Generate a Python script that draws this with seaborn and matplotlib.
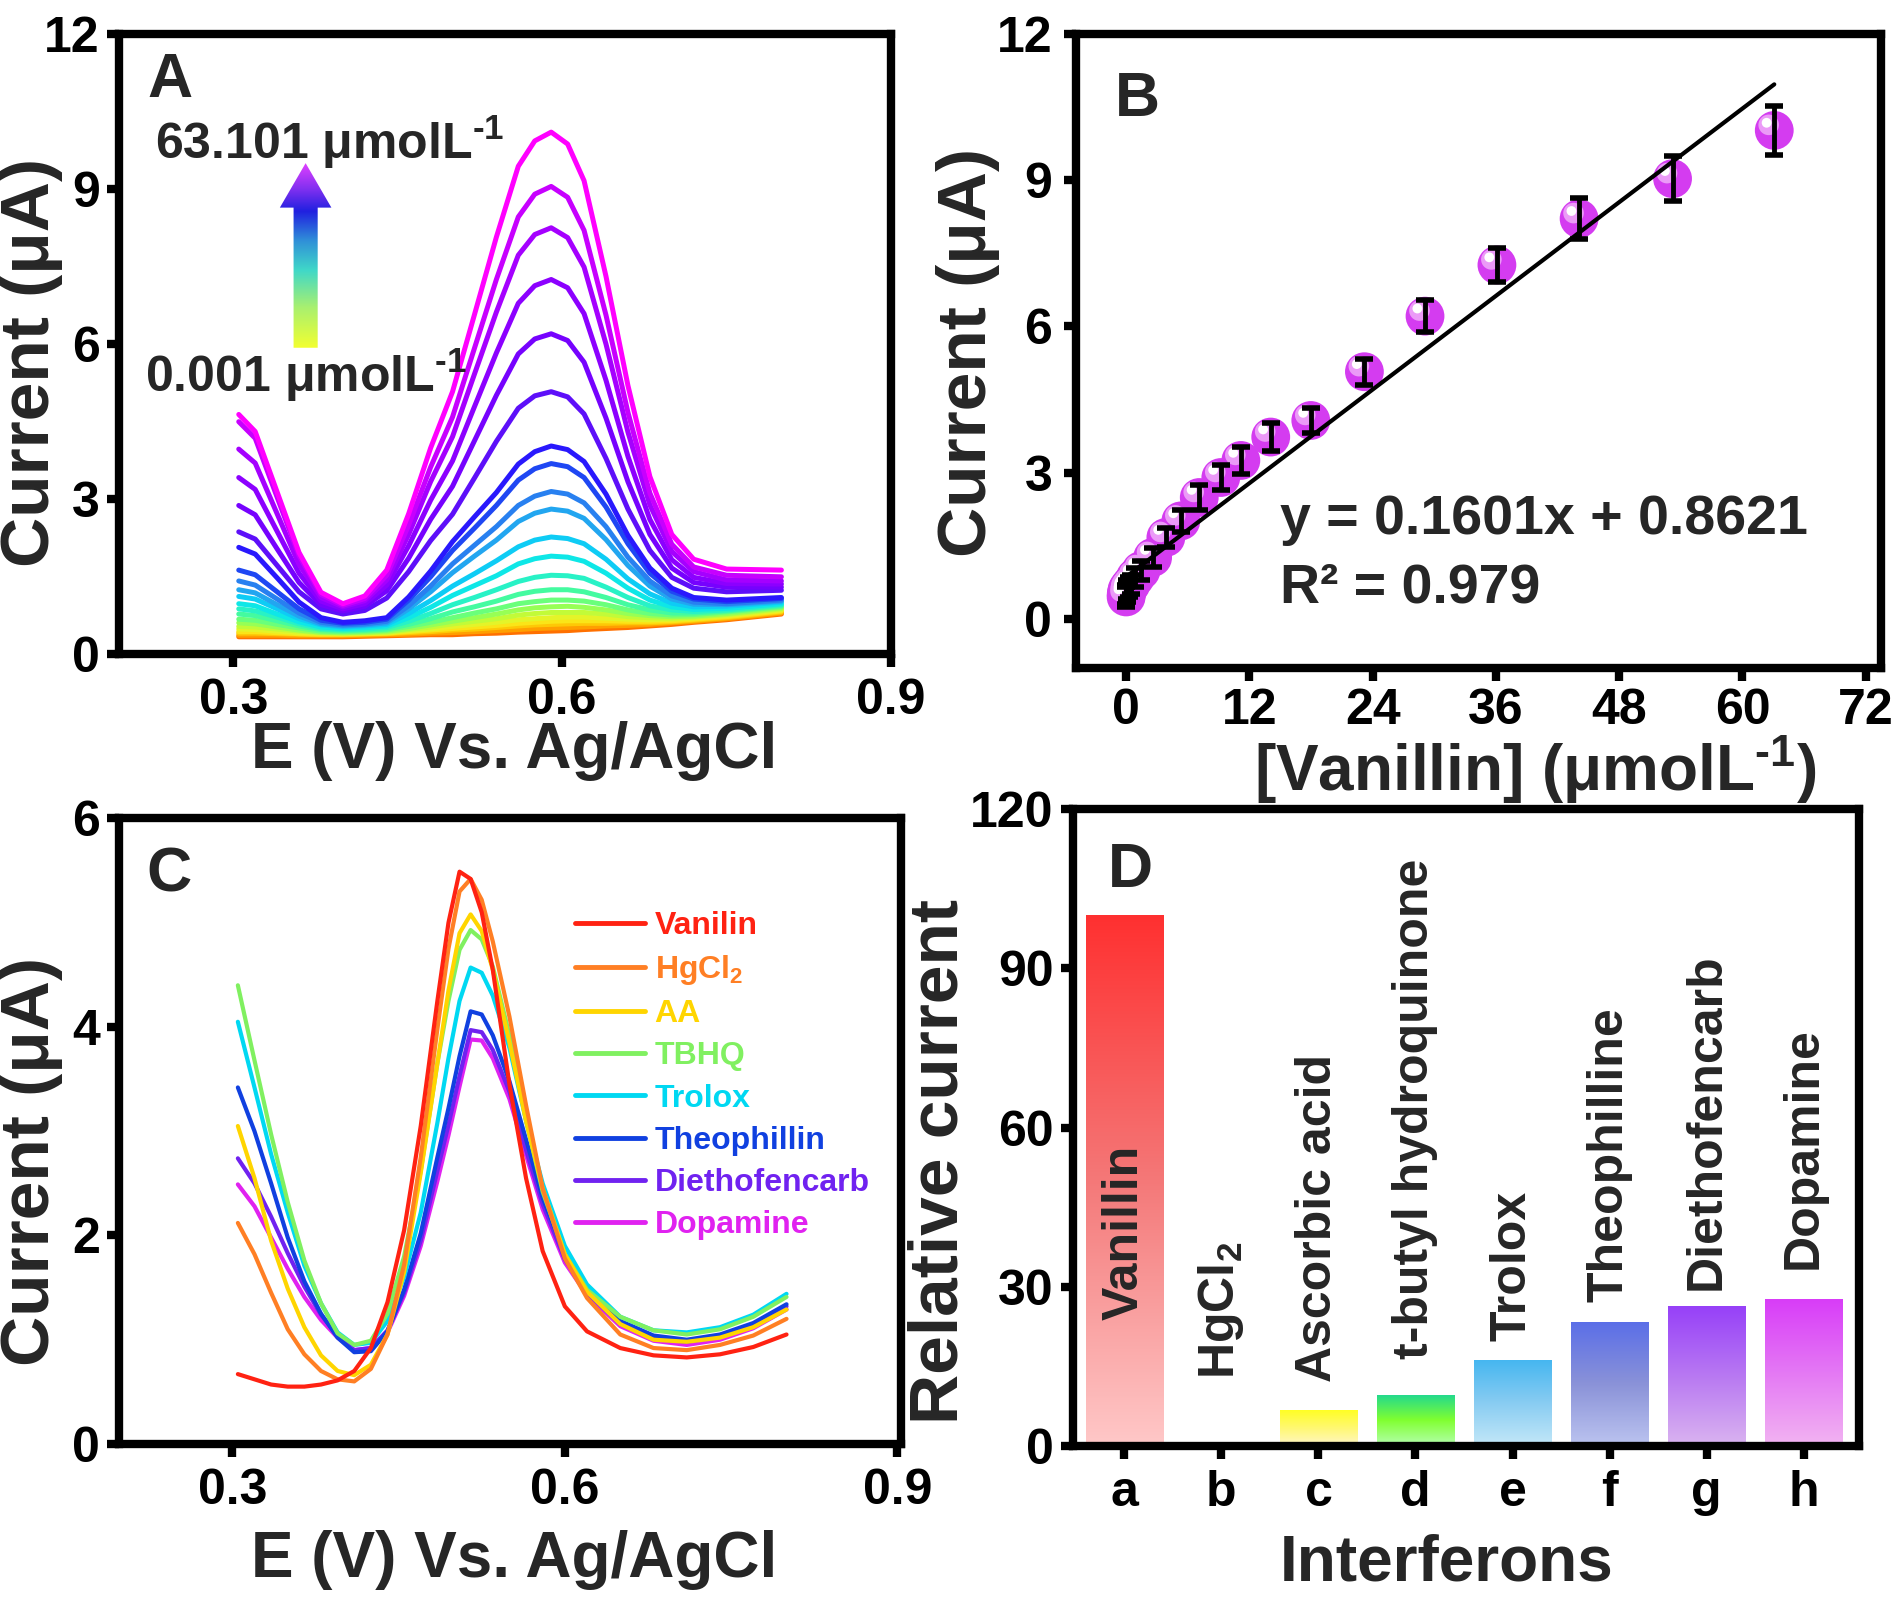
import numpy as np
import pandas as pd
import matplotlib
matplotlib.use("Agg")
import matplotlib.pyplot as plt
import matplotlib.transforms as mtransforms
from matplotlib.colors import LinearSegmentedColormap
from matplotlib.lines import Line2D
from matplotlib.patches import FancyArrow
import seaborn as sns

# ---------------- data ----------------
# A: DPV curves, potential grid (V) and current (uA), lowest -> highest vanillin
E_A = [0.305, 0.32, 0.34, 0.36, 0.38, 0.40, 0.42, 0.44, 0.46, 0.48, 0.50, 0.52,
       0.54, 0.56, 0.575, 0.59, 0.605, 0.62, 0.64, 0.66, 0.68, 0.70, 0.72, 0.75, 0.80]
dpv_A = [
    [0.34, 0.34, 0.34, 0.34, 0.34, 0.34, 0.35, 0.36, 0.37, 0.38, 0.38, 0.40, 0.41, 0.43, 0.44, 0.45, 0.46, 0.48, 0.50, 0.52, 0.55, 0.58, 0.62, 0.67, 0.78],
    [0.37, 0.37, 0.37, 0.36, 0.36, 0.36, 0.37, 0.38, 0.39, 0.41, 0.42, 0.44, 0.46, 0.48, 0.50, 0.51, 0.52, 0.53, 0.55, 0.56, 0.58, 0.61, 0.64, 0.69, 0.80],
    [0.41, 0.41, 0.40, 0.39, 0.38, 0.38, 0.39, 0.40, 0.42, 0.44, 0.47, 0.49, 0.52, 0.55, 0.57, 0.58, 0.59, 0.60, 0.60, 0.61, 0.61, 0.63, 0.66, 0.71, 0.82],
    [0.44, 0.44, 0.42, 0.40, 0.39, 0.39, 0.40, 0.41, 0.44, 0.47, 0.50, 0.53, 0.56, 0.60, 0.62, 0.64, 0.65, 0.65, 0.65, 0.64, 0.64, 0.65, 0.68, 0.73, 0.84],
    [0.49, 0.48, 0.45, 0.42, 0.41, 0.40, 0.41, 0.42, 0.46, 0.49, 0.54, 0.58, 0.62, 0.67, 0.69, 0.71, 0.72, 0.72, 0.70, 0.68, 0.67, 0.68, 0.70, 0.75, 0.86],
    [0.54, 0.53, 0.49, 0.45, 0.42, 0.41, 0.42, 0.43, 0.48, 0.53, 0.59, 0.64, 0.69, 0.76, 0.79, 0.81, 0.81, 0.81, 0.78, 0.73, 0.71, 0.70, 0.72, 0.77, 0.88],
    [0.61, 0.59, 0.53, 0.47, 0.43, 0.42, 0.43, 0.45, 0.50, 0.57, 0.64, 0.71, 0.78, 0.86, 0.90, 0.92, 0.93, 0.91, 0.86, 0.79, 0.75, 0.73, 0.74, 0.79, 0.90],
    [0.68, 0.66, 0.58, 0.51, 0.45, 0.44, 0.45, 0.47, 0.54, 0.62, 0.71, 0.80, 0.88, 0.98, 1.02, 1.05, 1.05, 1.03, 0.96, 0.86, 0.79, 0.76, 0.77, 0.82, 0.92],
    [0.78, 0.75, 0.65, 0.55, 0.48, 0.46, 0.47, 0.49, 0.58, 0.69, 0.82, 0.92, 1.03, 1.16, 1.22, 1.25, 1.25, 1.21, 1.10, 0.96, 0.86, 0.80, 0.80, 0.84, 0.94],
    [0.88, 0.84, 0.72, 0.59, 0.50, 0.48, 0.49, 0.52, 0.64, 0.79, 0.96, 1.10, 1.25, 1.41, 1.49, 1.53, 1.52, 1.47, 1.30, 1.10, 0.94, 0.86, 0.83, 0.86, 0.96],
    [0.98, 0.94, 0.78, 0.63, 0.53, 0.50, 0.52, 0.55, 0.71, 0.91, 1.14, 1.33, 1.52, 1.75, 1.85, 1.90, 1.88, 1.80, 1.57, 1.28, 1.05, 0.92, 0.87, 0.89, 0.98],
    [1.12, 1.07, 0.88, 0.69, 0.57, 0.53, 0.55, 0.58, 0.79, 1.04, 1.32, 1.56, 1.81, 2.08, 2.21, 2.27, 2.24, 2.14, 1.84, 1.46, 1.17, 0.99, 0.92, 0.93, 1.01],
    [1.25, 1.19, 0.96, 0.74, 0.59, 0.55, 0.57, 0.61, 0.88, 1.21, 1.58, 1.90, 2.21, 2.57, 2.73, 2.81, 2.77, 2.63, 2.22, 1.72, 1.32, 1.07, 0.97, 0.96, 1.03],
    [1.42, 1.34, 1.07, 0.80, 0.62, 0.57, 0.59, 0.64, 0.94, 1.32, 1.75, 2.11, 2.47, 2.88, 3.06, 3.15, 3.10, 2.93, 2.47, 1.88, 1.42, 1.13, 1.01, 0.98, 1.05],
    [1.63, 1.54, 1.21, 0.88, 0.66, 0.60, 0.62, 0.68, 1.05, 1.50, 2.01, 2.44, 2.88, 3.37, 3.59, 3.69, 3.63, 3.42, 2.85, 2.14, 1.57, 1.22, 1.07, 1.02, 1.08],
    [2.07, 1.94, 1.48, 1.01, 0.71, 0.62, 0.65, 0.71, 1.11, 1.61, 2.18, 2.66, 3.13, 3.68, 3.92, 4.03, 3.96, 3.73, 3.10, 2.30, 1.67, 1.28, 1.10, 1.05, 1.10],
    [2.37, 2.23, 1.72, 1.21, 0.88, 0.78, 0.85, 1.09, 1.60, 2.20, 2.71, 3.41, 4.12, 4.76, 5.00, 5.08, 4.98, 4.65, 3.79, 2.81, 2.01, 1.49, 1.28, 1.21, 1.24],
    [2.88, 2.70, 2.04, 1.39, 0.96, 0.84, 0.93, 1.23, 1.86, 2.61, 3.25, 4.13, 5.01, 5.81, 6.10, 6.20, 6.07, 5.65, 4.57, 3.34, 2.32, 1.67, 1.39, 1.30, 1.30],
    [3.42, 3.19, 2.38, 1.57, 1.03, 0.88, 0.98, 1.34, 2.10, 2.98, 3.74, 4.79, 5.83, 6.79, 7.13, 7.25, 7.09, 6.59, 5.30, 3.83, 2.61, 1.83, 1.49, 1.37, 1.36],
    [3.97, 3.70, 2.72, 1.74, 1.10, 0.92, 1.04, 1.44, 2.32, 3.34, 4.21, 5.42, 6.62, 7.72, 8.12, 8.25, 8.06, 7.49, 6.00, 4.30, 2.89, 1.99, 1.60, 1.44, 1.42],
    [4.50, 4.18, 3.04, 1.91, 1.16, 0.95, 1.08, 1.53, 2.50, 3.62, 4.59, 5.92, 7.25, 8.46, 8.90, 9.05, 8.84, 8.20, 6.56, 4.68, 3.12, 2.13, 1.69, 1.53, 1.50],
    [4.64, 4.31, 3.14, 1.97, 1.20, 0.98, 1.13, 1.63, 2.72, 3.99, 5.08, 6.57, 8.07, 9.44, 9.93, 10.10, 9.87, 9.16, 7.31, 5.20, 3.44, 2.32, 1.84, 1.65, 1.63],
]

# B: calibration
conc_B = [0.001, 0.01, 0.05, 0.1, 0.25, 0.47, 0.9, 1.44, 2.58, 3.87, 5.33, 7.12,
          9.22, 11.17, 14.08, 17.98, 23.2, 29.1, 36.1, 44.1, 53.2, 63.101]
curr_B = [0.45, 0.50, 0.55, 0.60, 0.65, 0.71, 0.85, 0.99, 1.26, 1.67, 2.01, 2.49,
          2.90, 3.25, 3.73, 4.07, 5.07, 6.21, 7.26, 8.21, 9.03, 10.02]
err_B = [0.2, 0.2, 0.2, 0.2, 0.2, 0.2, 0.2, 0.2, 0.2, 0.2, 0.22, 0.25,
         0.25, 0.27, 0.28, 0.25, 0.27, 0.33, 0.35, 0.42, 0.46, 0.5]
fit_slope = 0.1601
fit_intercept = 0.8621

# C: interference DPV
E_C = [0.305, 0.32, 0.335, 0.35, 0.365, 0.38, 0.395, 0.41, 0.425, 0.44, 0.455, 0.47,
       0.485, 0.495, 0.505, 0.515, 0.525, 0.535, 0.55, 0.565, 0.58, 0.60, 0.62, 0.65,
       0.68, 0.71, 0.74, 0.77, 0.80]
species_C = ['Vanilin', 'HgCl$_2$', 'AA', 'TBHQ', 'Trolox', 'Theophillin',
             'Diethofencarb', 'Dopamine']
curr_C = [
    [0.67, 0.62, 0.57, 0.55, 0.55, 0.57, 0.61, 0.70, 0.92, 1.36, 2.05, 3.05, 4.25, 5.00, 5.49, 5.42, 5.10, 4.55, 3.45, 2.55, 1.85, 1.32, 1.08, 0.92, 0.85, 0.83, 0.86, 0.93, 1.05],
    [2.12, 1.82, 1.45, 1.10, 0.86, 0.70, 0.62, 0.60, 0.72, 1.05, 1.72, 2.75, 3.98, 4.75, 5.30, 5.42, 5.22, 4.82, 4.10, 3.25, 2.45, 1.78, 1.40, 1.05, 0.92, 0.90, 0.95, 1.04, 1.20],
    [3.05, 2.55, 1.95, 1.49, 1.12, 0.85, 0.70, 0.66, 0.76, 1.05, 1.65, 2.60, 3.65, 4.35, 4.90, 5.08, 4.92, 4.55, 3.85, 3.10, 2.45, 1.82, 1.46, 1.15, 1.00, 0.98, 1.02, 1.12, 1.29],
    [4.40, 3.68, 2.97, 2.32, 1.76, 1.35, 1.06, 0.95, 0.99, 1.25, 1.80, 2.62, 3.65, 4.25, 4.74, 4.93, 4.84, 4.58, 3.92, 3.10, 2.42, 1.82, 1.48, 1.22, 1.09, 1.05, 1.10, 1.22, 1.41],
    [4.05, 3.42, 2.78, 2.22, 1.71, 1.35, 1.07, 0.95, 0.97, 1.18, 1.60, 2.22, 3.08, 3.70, 4.25, 4.57, 4.52, 4.30, 3.80, 3.10, 2.50, 1.90, 1.53, 1.22, 1.09, 1.07, 1.12, 1.24, 1.44],
    [3.42, 3.00, 2.50, 1.98, 1.56, 1.25, 1.02, 0.88, 0.89, 1.08, 1.48, 2.02, 2.75, 3.22, 3.72, 4.15, 4.12, 3.92, 3.48, 2.92, 2.36, 1.82, 1.48, 1.18, 1.04, 1.00, 1.05, 1.16, 1.34],
    [2.74, 2.50, 2.18, 1.83, 1.51, 1.24, 1.04, 0.90, 0.92, 1.09, 1.45, 1.95, 2.62, 3.06, 3.53, 3.97, 3.95, 3.78, 3.38, 2.82, 2.30, 1.77, 1.45, 1.15, 1.01, 0.98, 1.03, 1.14, 1.32],
    [2.49, 2.28, 1.98, 1.68, 1.41, 1.19, 1.02, 0.90, 0.92, 1.07, 1.42, 1.90, 2.52, 2.96, 3.43, 3.88, 3.87, 3.70, 3.31, 2.77, 2.25, 1.74, 1.43, 1.13, 0.99, 0.95, 1.00, 1.11, 1.29],
]
colors_C = ['#ff2212', '#ff7f24', '#ffd500', '#80f060', '#00d8f2', '#1040e0', '#7022f0', '#e022f0']

# D: relative current of interferents
letters_D = ['a', 'b', 'c', 'd', 'e', 'f', 'g', 'h']
names_D = ['Vanillin', 'HgCl$_2$', 'Ascorbic acid', 't-butyl hydroquinone', 'Trolox',
           'Theophilline', 'Diethofencarb', 'Dopamine']
rel_D = [100, 0, 6.8, 9.7, 16.3, 23.5, 26.4, 27.8]
name_y_D = [23.7, 12.6, 12.1, 16.5, 19.8, 27.1, 29.5, 33.4]
bar_grad_D = [['#ffc8c8', '#f47878', '#ff3030'], None, ['#fff6c8', '#fff870', '#ffff20'],
              ['#b4ffb0', '#80ff30', '#20d890'], ['#c4e8f8', '#88ccf2', '#44b6f0'],
              ['#bcc4f0', '#8a92d8', '#5a6ee8'], ['#dab4f0', '#b878f2', '#9640f8'],
              ['#f2b4f2', '#e478f4', '#d83cf8']]

# ---------------- style ----------------
sns.set_theme(style="ticks")
plt.rcParams['font.family'] = ['Liberation Sans', 'DejaVu Sans']
plt.rcParams['font.weight'] = 'bold'
plt.rcParams['axes.labelweight'] = 'bold'
plt.rcParams['mathtext.fontset'] = 'custom'
plt.rcParams['mathtext.rm'] = 'Liberation Sans:bold'
plt.rcParams['mathtext.it'] = 'Liberation Sans:bold'
plt.rcParams['mathtext.bf'] = 'Liberation Sans:bold'
plt.rcParams['mathtext.default'] = 'rm'

TICK = 36
LAB_X = 46
LAB_Y = 50
UNIT = 'μmolL$^{\u20101}$'


def frame(ax, xpad=8, ypad=5):
    for sp in ax.spines.values():
        sp.set_linewidth(6)
        sp.set_color('black')
    ax.tick_params(axis='both', direction='out', length=9, width=6, color='black',
                   labelsize=TICK, labelcolor='black')
    ax.tick_params(axis='x', pad=xpad)
    ax.tick_params(axis='y', pad=ypad)
    ax.grid(False)


fig = plt.figure(figsize=(18.93, 15.98), dpi=100)
axA = fig.add_axes([0.0630, 0.5905, 0.4077, 0.3883])
axB = fig.add_axes([0.5683, 0.5822, 0.4254, 0.3966])
axC = fig.add_axes([0.0630, 0.0964, 0.4128, 0.3914])
axD = fig.add_axes([0.5668, 0.0949, 0.4152, 0.3989])

# ---------------- A ----------------
cmapA = LinearSegmentedColormap.from_list('dpv', [
    (0.0, '#ff7000'), (0.08, '#ffc000'), (0.16, '#f8f020'), (0.26, '#b0ff40'),
    (0.36, '#50ff90'), (0.44, '#20f0d0'), (0.50, '#00e0f8'), (0.56, '#20b0f0'),
    (0.62, '#2880f0'), (0.66, '#2050f0'), (0.70, '#1a1aff'), (0.76, '#5a10f8'),
    (0.82, '#7a00ff'), (0.88, '#9600ff'), (0.94, '#b800ff'), (1.0, '#ff00ff')])
rows = []
for k, cur in enumerate(dpv_A):
    for e, i in zip(E_A, cur):
        rows.append((k, e, i))
dfA = pd.DataFrame(rows, columns=['curve', 'E', 'I'])
palA = {k: cmapA(k / (len(dpv_A) - 1)) for k in range(len(dpv_A))}
sns.lineplot(data=dfA, x='E', y='I', hue='curve', palette=palA, legend=False,
             estimator=None, sort=False, linewidth=3.6, ax=axA)
axA.set_xlim(0.196, 0.9)
axA.set_ylim(0, 12)
axA.set_xticks([0.3, 0.6, 0.9])
axA.set_xticklabels(['0.3', '0.6', '0.9'])
axA.set_yticks([0, 3, 6, 9, 12])
frame(axA)
axA.set_xlabel('E (V) Vs. Ag/AgCl', fontsize=LAB_X)
axA.set_ylabel('Current (μA)', fontsize=LAB_Y)
axA.xaxis.set_label_coords(0.512, -0.107)
axA.yaxis.set_label_coords(-0.073, 0.471)
axA.text(0.036, 0.972, 'A', transform=axA.transAxes, fontsize=45, va='top', ha='left')
axA.text(0.2286, 9.9, '63.101 ' + UNIT, fontsize=36, va='center', ha='left')
axA.text(0.2198, 5.39, '0.001 ' + UNIT, fontsize=36, va='center', ha='left')

# gradient arrow
arrow_cmap = LinearSegmentedColormap.from_list('arr', [
    (0.0, '#f2ff30'), (0.22, '#a8f070'), (0.42, '#40d8c8'), (0.58, '#3090d8'),
    (0.74, '#2020e0'), (0.86, '#8030f0'), (1.0, '#e040ff')])
ax_x, ay0, ay1 = 0.366, 5.93, 9.5
arrow = FancyArrow(ax_x, ay0, 0, ay1 - ay0, width=0.022, head_width=0.047,
                   head_length=0.86, length_includes_head=True,
                   transform=axA.transData, fc='none', ec='none')
axA.add_patch(arrow)
grad = np.linspace(0, 1, 256).reshape(-1, 1)
im = axA.imshow(grad, extent=[ax_x - 0.025, ax_x + 0.025, ay0, ay1], origin='lower',
                aspect='auto', cmap=arrow_cmap, zorder=4)
im.set_clip_path(arrow)
axA.set_xlim(0.196, 0.9)
axA.set_ylim(0, 12)

# ---------------- B ----------------
fit_x = [min(conc_B), max(conc_B)]
fit_y = [fit_slope * x + fit_intercept for x in fit_x]
sns.scatterplot(x=conc_B, y=curr_B, s=780, color='#d43cf0', edgecolor='none',
                zorder=3, ax=axB)
off1 = mtransforms.ScaledTranslation(-4 / 72, 4 / 72, fig.dpi_scale_trans)
off2 = mtransforms.ScaledTranslation(-5.5 / 72, 5.5 / 72, fig.dpi_scale_trans)
axB.scatter(conc_B, curr_B, s=220, color='#eb9af7', edgecolors='none', zorder=3.5,
            transform=axB.transData + off1)
axB.scatter(conc_B, curr_B, s=50, color='#ffffff', edgecolors='none', zorder=3.6,
            transform=axB.transData + off2)
axB.errorbar(conc_B, curr_B, yerr=err_B, fmt='none', ecolor='black', elinewidth=3.5,
             capsize=6.5, capthick=4, zorder=5)
sns.lineplot(x=fit_x, y=fit_y, color='black', linewidth=3, zorder=6, ax=axB)
axB.set_xlim(-4.9, 73.5)
axB.set_ylim(-1, 12)
axB.set_xticks([0, 12, 24, 36, 48, 60, 72])
axB.set_yticks([0, 3, 6, 9, 12])
frame(axB, xpad=6, ypad=8)
axB.set_xlabel('[Vanillin] (' + UNIT + ')', fontsize=LAB_X)
axB.set_ylabel('Current (μA)', fontsize=LAB_Y)
axB.xaxis.set_label_coords(0.571, -0.105)
axB.yaxis.set_label_coords(-0.094, 0.497)
axB.text(0.048, 0.943, 'B', transform=axB.transAxes, fontsize=45, va='top', ha='left')
axB.text(15.0, 2.03, 'y = 0.1601x + 0.8621', fontsize=40, va='center', ha='left')
axB.text(15.0, 0.62, 'R² = 0.979', fontsize=40, va='center', ha='left')

# ---------------- C ----------------
rowsC = []
for name, cur in zip(species_C, curr_C):
    for e, i in zip(E_C, cur):
        rowsC.append((name, e, i))
dfC = pd.DataFrame(rowsC, columns=['species', 'E', 'I'])
palC = dict(zip(species_C, colors_C))
sns.lineplot(data=dfC, x='E', y='I', hue='species', hue_order=species_C[::-1],
             palette=palC, legend=False, estimator=None, sort=False, linewidth=3.0, ax=axC)
axC.set_xlim(0.198, 0.903)
axC.set_ylim(0, 6)
axC.set_xticks([0.3, 0.6, 0.9])
axC.set_xticklabels(['0.3', '0.6', '0.9'])
axC.set_yticks([0, 2, 4, 6])
frame(axC)
axC.set_xlabel('E (V) Vs. Ag/AgCl', fontsize=LAB_X)
axC.set_ylabel('Current (μA)', fontsize=LAB_Y)
axC.xaxis.set_label_coords(0.505, -0.137)
axC.yaxis.set_label_coords(-0.072, 0.452)
axC.text(0.035, 0.957, 'C', transform=axC.transAxes, fontsize=45, va='top', ha='left')
handles = [Line2D([0], [0], color=c, lw=3.5) for c in colors_C]
axC.legend(handles, species_C, loc='upper left', bbox_to_anchor=(0.583, 0.852),
           frameon=False, fontsize=23, handlelength=2.2, handletextpad=0.3,
           labelspacing=0.38, borderaxespad=0, borderpad=0, labelcolor=colors_C)

# ---------------- D ----------------
sns.barplot(x=letters_D, y=rel_D, color='white', saturation=1, width=0.8,
            errorbar=None, ax=axD)
for patch, stops in zip(axD.patches, bar_grad_D):
    patch.set_facecolor('none')
    patch.set_edgecolor('none')
    if stops is None or patch.get_height() <= 0:
        continue
    x0, w = patch.get_x(), patch.get_width()
    y0, h = patch.get_y(), patch.get_height()
    cm = LinearSegmentedColormap.from_list('bar', stops)
    bim = axD.imshow(grad, extent=[x0, x0 + w, y0, y0 + h], origin='lower',
                     aspect='auto', cmap=cm, zorder=2)
    bim.set_clip_path(patch)
for k, (name, ty) in enumerate(zip(names_D, name_y_D)):
    axD.text(k, ty, name, rotation=90, ha='center', va='bottom', fontsize=36, zorder=5)
axD.set_xlim(-0.53, 7.57)
axD.set_ylim(0, 120)
axD.set_yticks([0, 30, 60, 90, 120])
frame(axD, xpad=8, ypad=5)
axD.set_xlabel('Interferons', fontsize=LAB_X)
axD.set_ylabel('Relative current', fontsize=LAB_Y)
axD.xaxis.set_label_coords(0.476, -0.136)
axD.yaxis.set_label_coords(-0.129, 0.447)
axD.text(0.045, 0.949, 'D', transform=axD.transAxes, fontsize=45, va='top', ha='left')

fig.savefig('out.png', dpi=100)
